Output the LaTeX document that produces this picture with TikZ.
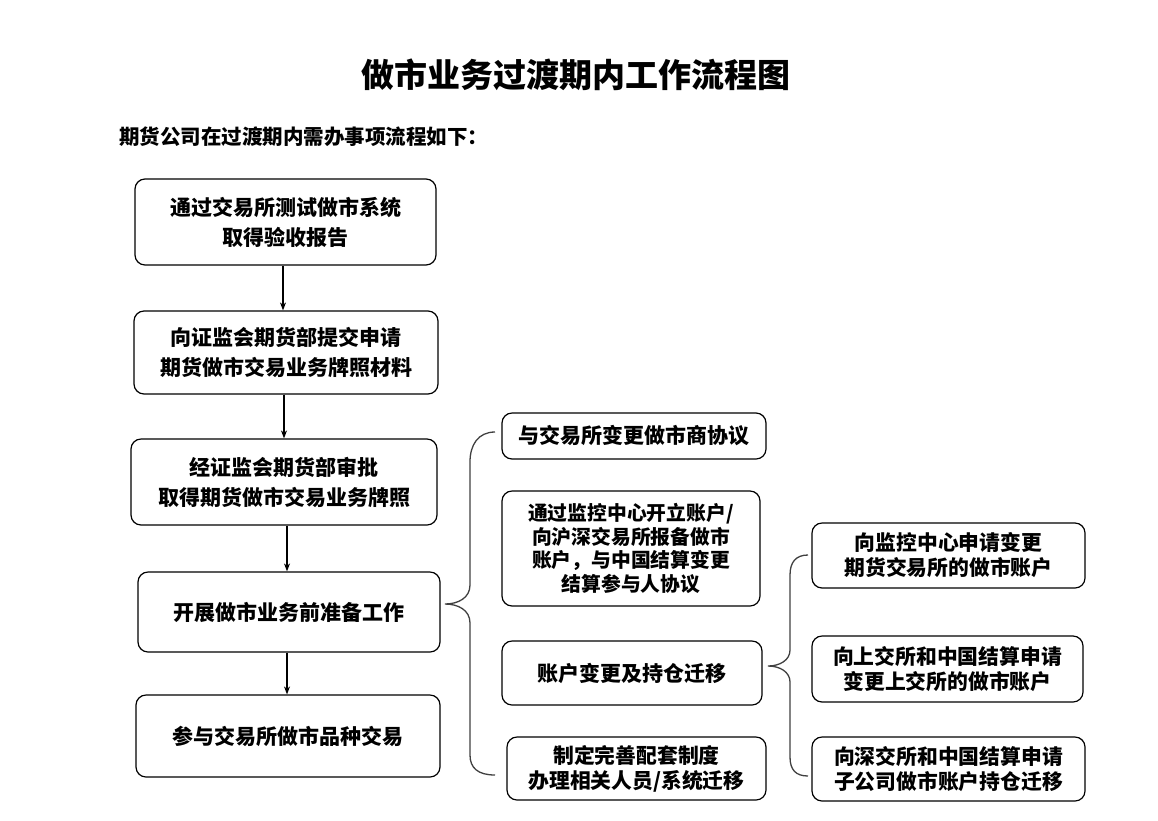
\documentclass[tikz,border=0pt]{standalone}
\usepackage{fontspec}
\newfontfamily\cjk{Noto Sans CJK SC}
\usetikzlibrary{arrows.meta}
\tikzset{
  box/.style={draw=black, line width=1.2pt, rounded corners=10pt, align=center, inner sep=0pt,
    font=\cjk\bfseries\fontsize{21}{30}\selectfont},
  sbox/.style={box, font=\cjk\bfseries\fontsize{20.8}{25}\selectfont},
  tbox/.style={box, font=\cjk\bfseries\fontsize{19.8}{23.5}\selectfont},
  flow/.style={draw=black, line width=1.2pt, -{Stealth[length=8pt,width=6pt]}},
  brace/.style={draw=black!75, line width=1.3pt},
}
\begin{document}
\begin{tikzpicture}[x=1pt,y=-1pt]
\useasboundingbox (0,0) rectangle (1158,820);
\node[font=\cjk\bfseries\fontsize{33}{38}\selectfont] (title) at (576,75) {做市业务过渡期内工作流程图};
\node[anchor=west, inner sep=0pt, font=\cjk\bfseries\fontsize{20.5}{24}\selectfont] (sub) at (119,137) {期货公司在过渡期内需办事项流程如下：};

\node[box, minimum width=301pt, minimum height=86pt] (B1) at (285.5,222) {通过交易所测试做市系统\\取得验收报告};
\node[box, minimum width=304pt, minimum height=83pt] (B2) at (286,352.5) {向证监会期货部提交申请\\期货做市交易业务牌照材料};
\node[box, minimum width=306pt, minimum height=86pt] (B3) at (284,482) {经证监会期货部审批\\取得期货做市交易业务牌照};
\node[box, minimum width=302pt, minimum height=80pt] (B4) at (289,612) {开展做市业务前准备工作};
\node[box, minimum width=304pt, minimum height=82pt] (B5) at (288,736) {参与交易所做市品种交易};

\node[box, minimum width=264pt, minimum height=46pt] (R1) at (634,436) {与交易所变更做市商协议};
\node[tbox, minimum width=258pt, minimum height=115pt] (R2) at (631,548.5) {通过监控中心开立账户/\\向沪深交易所报备做市\\账户，与中国结算变更\\结算参与人协议};
\node[box, minimum width=260pt, minimum height=64pt] (R3) at (632,673) {账户变更及持仓迁移};
\node[sbox, minimum width=259pt, minimum height=63pt] (R4) at (636.5,768.5) {制定完善配套制度\\办理相关人员/系统迁移};

\node[sbox, minimum width=273pt, minimum height=65pt] (F1) at (948.5,555.5) {向监控中心申请变更\\期货交易所的做市账户};
\node[sbox, minimum width=271pt, minimum height=66pt] (F2) at (947.5,669) {向上交所和中国结算申请\\变更上交所的做市账户};
\node[sbox, minimum width=273pt, minimum height=64pt] (F3) at (948.5,769) {向深交所和中国结算申请\\子公司做市账户持仓迁移};

\draw[flow] (B1.south -| 283,0) -- (B2.north -| 283,0);
\draw[flow] (B2.south -| 284,0) -- (B3.north -| 284,0);
\draw[flow] (B3.south -| 287,0) -- (B4.north -| 287,0);
\draw[flow] (B4.south -| 287,0) -- (B5.north -| 287,0);

\coordinate (p1) at (495,432);
\coordinate (p2) at (445,604);
\coordinate (p3) at (495,775);
\draw[brace] (p1) .. controls (478,432) and (470,445) .. (470,462) -- (470,585)
  .. controls (470,598) and (458,604) .. (p2)
  .. controls (458,604) and (470,610) .. (470,623) -- (470,755)
  .. controls (470,768) and (478,775) .. (p3);

\coordinate (q1) at (808,555);
\coordinate (q2) at (768,666);
\coordinate (q3) at (808,776);
\draw[brace] (q1) .. controls (796,555) and (790,562) .. (790,575) -- (790,650)
  .. controls (790,660) and (780,666) .. (q2)
  .. controls (780,666) and (790,672) .. (790,682) -- (790,757)
  .. controls (790,770) and (796,776) .. (q3);
\end{tikzpicture}
\end{document}
